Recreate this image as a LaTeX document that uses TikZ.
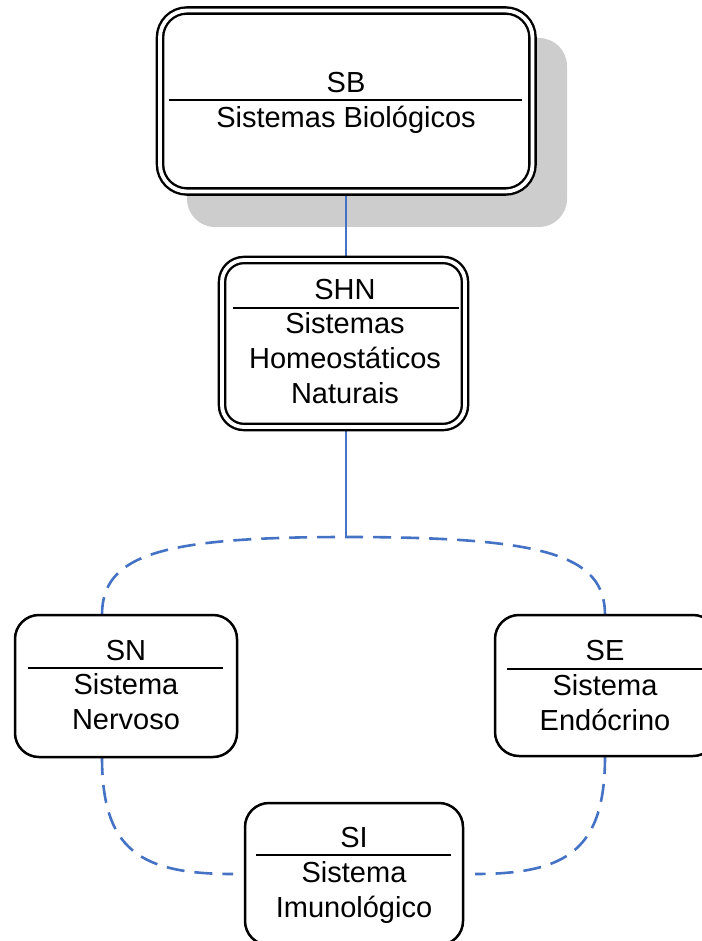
\documentclass[tikz,border=0pt]{standalone}
\usepackage{fontspec}
\setmainfont{Liberation Sans}
\usetikzlibrary{calc}
\pgfdeclarelayer{shade}
\pgfdeclarelayer{wires}
\pgfsetlayers{shade,wires,main}
\definecolor{wireblue}{RGB}{68,114,196}
\definecolor{shadegray}{RGB}{205,205,205}

\begin{document}
\begin{tikzpicture}[x=1pt,y=-1pt,
  txt/.style={anchor=base,inner sep=0pt,outer sep=0pt,font=\fontsize{29}{35}\selectfont},
  dbox/.style={draw=black,fill=white,line width=2.4pt,double=white,double distance=3.8pt,inner sep=0pt,outer sep=0pt},
  sbox/.style={draw=black,fill=white,line width=2.5pt,rounded corners=24pt,inner sep=0pt,outer sep=0pt},
  shadebox/.style={fill=shadegray,rounded corners=28pt,inner sep=0pt,outer sep=0pt},
  divider/.style={line width=2.2pt},
  link/.style={draw=wireblue,line width=2.2pt},
  dlink/.style={draw=wireblue,line width=2.6pt,dash pattern=on 18pt off 10pt}
]
\useasboundingbox (0,0) rectangle (701,941);

% drop shadow behind the top box
\begin{pgfonlayer}{shade}
  \node[shadebox,minimum width=380pt,minimum height=189pt] (SBshadow) at (377,132.5) {};
\end{pgfonlayer}

% boxes
\node[dbox,rounded corners=27pt,minimum width=372.5pt,minimum height=181pt] (SB) at (346.25,101) {};
\node[dbox,rounded corners=22pt,minimum width=243pt,minimum height=167pt] (SHN) at (343.5,343.5) {};
\node[sbox,minimum width=222pt,minimum height=142pt] (SN) at (126,686) {};
\node[sbox,minimum width=222pt,minimum height=141pt] (SE) at (606,685.5) {};
\node[sbox,minimum width=218pt,minimum height=142pt] (SI) at (354,874) {};

% titles, rules and descriptions
\node[txt] (SBt) at (346,93) {SB};
\draw[divider] (169,100) -- (522,100);
\node[txt] (SBd) at (346,128) {Sistemas Biológicos};

\node[txt] (SHNt) at (345,299) {SHN};
\draw[divider] (233,308) -- (459,308);
\node[txt] (SHNd) at (345,333) {\begin{tabular}[t]{@{}c@{}}Sistemas\\Homeostáticos\\Naturais\end{tabular}};

\node[txt] (SNt) at (126,660) {SN};
\draw[divider] (28,668) -- (223,668);
\node[txt] (SNd) at (126,694) {\begin{tabular}[t]{@{}c@{}}Sistema\\Nervoso\end{tabular}};

\node[txt] (SEt) at (605,660) {SE};
\draw[divider] (507,669) -- (705,669);
\node[txt] (SEd) at (605,695) {\begin{tabular}[t]{@{}c@{}}Sistema\\Endócrino\end{tabular}};

\node[txt] (SIt) at (354,847) {SI};
\draw[divider] (256,855) -- (451,855);
\node[txt] (SId) at (354,882) {\begin{tabular}[t]{@{}c@{}}Sistema\\Imunológico\end{tabular}};

% connectors
\coordinate (hub) at (346,537);
\begin{pgfonlayer}{wires}
  \draw[link] (SB.south) -- (SB.south |- SHN.north);
  \draw[link] (hub |- SHN.south) -- (hub);
  \draw[dlink] ([xshift=-24pt]SN.north) .. controls +(0,-60) and +(-186,0) .. (hub)
               .. controls +(199,0) and +(0,-60) .. ([xshift=-1pt]SE.north);
  \draw[dlink] ([xshift=-24pt]SN.south) .. controls +(0,93) and +(-93,0) .. ([xshift=-12pt]SI.west);
  \draw[dlink] ([xshift=-1pt]SE.south) .. controls +(0,93) and +(93,0) .. ([xshift=12pt]SI.east);
\end{pgfonlayer}
\end{tikzpicture}
\end{document}
